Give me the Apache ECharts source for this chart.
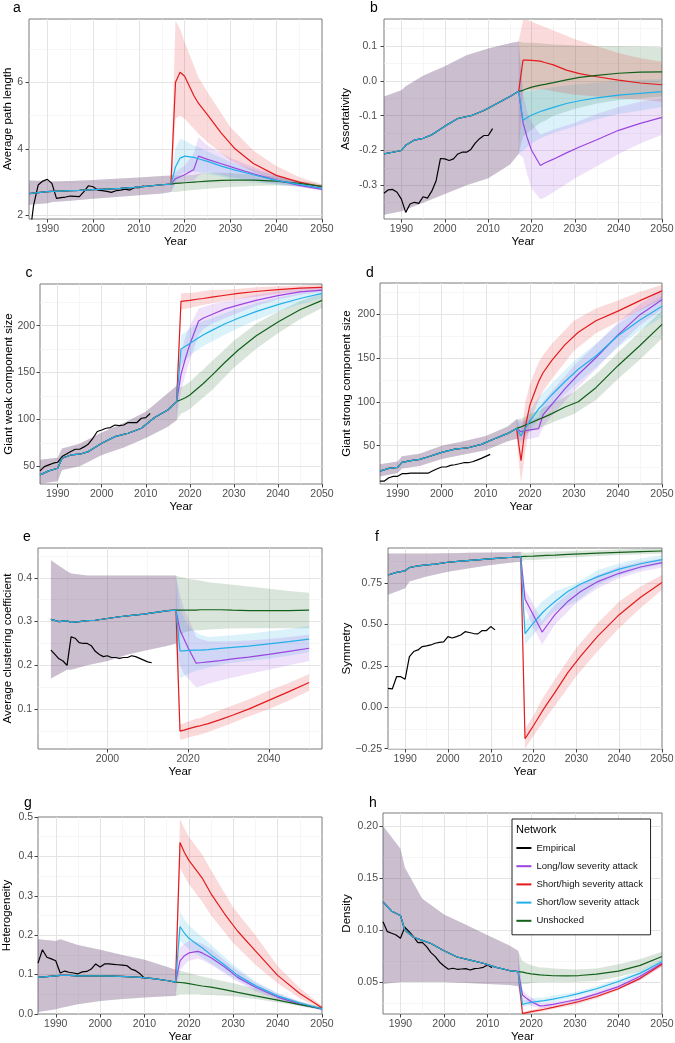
<!DOCTYPE html>
<html>
<head>
<meta charset="utf-8">
<script src="https://cdn.jsdelivr.net/npm/echarts@6/dist/echarts.min.js"></script>
<style>
  html, body { margin: 0; padding: 0; background: #fff; }
  #chart { width: 675px; height: 1043px; }
</style>
</head>
<body>
<div id="chart"></div>
<script>
// year grids
const EMP_YEARS = [1986, 1987, 1988, 1989, 1990, 1991, 1992, 1993, 1994, 1995, 1996, 1997, 1998,
  1999, 2000, 2001, 2002, 2003, 2004, 2005, 2006, 2007, 2008, 2009, 2010, 2011];
const PRE_YEARS = [1986, 1988, 1990, 1991, 1993, 1995, 1997, 2000, 2003, 2006, 2009, 2012, 2015, 2017];
const POST_YEARS = [2018, 2019, 2020, 2022, 2023, 2025, 2028, 2031, 2035, 2040, 2045, 2050];
const BAND_PRE_YEARS = [1986, 1990, 1991, 1995, 2000, 2005, 2010, 2015, 2017];
const BAND_POST_YEARS = [2018, 2019, 2020, 2022, 2023, 2025, 2030, 2035, 2040, 2045, 2050];

const NETWORKS = ['Empirical', 'Long/low severity attack', 'Short/high severity attack',
  'Short/low severity attack', 'Unshocked'];
const COLORS = ['#000000', '#9b45e0', '#e41a1c', '#22b0e8', '#12601a'];

const DECADES = [1990, 2000, 2010, 2020, 2030, 2040, 2050];
const HALF_DECADES = [1995, 2005, 2015, 2025, 2035, 2045];

// a: average path length
const aEmpirical = [1.2, 2.3, 2.91, 3.03, 3.08, 2.96, 2.51, 2.53, 2.55, 2.58, 2.57, 2.56, 2.71, 2.89, 2.86, 2.76, 2.74, 2.72, 2.69, 2.74, 2.76, 2.79, 2.76, 2.83, 2.83, 2.89];
const aShared = [2.65, 2.68, 2.71, 2.72, 2.73, 2.74, 2.75, 2.77, 2.79, 2.81, 2.84, 2.88, 2.92, 2.94];
const aLong = [3.1, 3.16, 3.22, 3.38, 3.78, 3.68, 3.55, 3.42, 3.25, 3.06, 2.9, 2.78];
const aShortHigh = [6.0, 6.3, 6.18, 5.6, 5.37, 5.02, 4.47, 4.0, 3.56, 3.2, 3.0, 2.86];
const aShortLow = [3.45, 3.72, 3.78, 3.74, 3.7, 3.62, 3.48, 3.36, 3.22, 3.05, 2.93, 2.82];
const aUnshocked = [2.96, 2.97, 2.98, 3.0, 3.01, 3.03, 3.05, 3.06, 3.06, 3.03, 2.96, 2.87];
const aSharedBand = [[2.32, 2.36, 2.4, 2.44, 2.5, 2.55, 2.6, 2.66, 2.7], [3.05, 3.03, 3.02, 3.03, 3.06, 3.1, 3.14, 3.18, 3.2]];
const aLongBand = [[2.95, 2.98, 3.0, 3.05, 3.2, 3.3, 3.15, 3.05, 2.95, 2.85, 2.74], [3.3, 3.4, 3.5, 3.85, 4.35, 4.1, 3.72, 3.45, 3.22, 3.02, 2.84]];
const aShortHighBand = [[4.9, 5.0, 4.9, 4.6, 4.45, 4.2, 3.65, 3.3, 3.05, 2.9, 2.8], [7.85, 7.6, 7.2, 6.5, 6.15, 5.7, 4.65, 3.95, 3.48, 3.15, 2.93]];
const aShortLowBand = [[3.0, 3.2, 3.3, 3.3, 3.3, 3.25, 3.1, 3.0, 2.92, 2.85, 2.77], [4.0, 4.3, 4.25, 4.1, 4.05, 3.92, 3.6, 3.38, 3.2, 3.02, 2.88]];
const aUnshockedBand = [[2.7, 2.72, 2.74, 2.76, 2.78, 2.8, 2.85, 2.88, 2.9, 2.88, 2.82], [3.2, 3.2, 3.2, 3.22, 3.24, 3.28, 3.27, 3.22, 3.16, 3.04, 2.93]];

// b: assortativity
const bEmpirical = [-0.323, -0.313, -0.312, -0.32, -0.34, -0.378, -0.354, -0.349, -0.352, -0.333, -0.337, -0.317, -0.287, -0.223, -0.224, -0.229, -0.224, -0.21, -0.205, -0.205, -0.197, -0.179, -0.166, -0.157, -0.157, -0.137];
const bShared = [-0.21, -0.205, -0.2, -0.185, -0.17, -0.165, -0.155, -0.13, -0.108, -0.1, -0.085, -0.065, -0.045, -0.03];
const bLong = [-0.12, -0.165, -0.2, -0.243, -0.236, -0.225, -0.207, -0.19, -0.169, -0.142, -0.122, -0.105];
const bShortHigh = [0.06, 0.06, 0.059, 0.057, 0.053, 0.046, 0.031, 0.021, 0.012, 0.002, -0.006, -0.011];
const bShortLow = [-0.113, -0.105, -0.098, -0.088, -0.084, -0.076, -0.065, -0.057, -0.049, -0.041, -0.036, -0.031];
const bUnshocked = [-0.027, -0.022, -0.018, -0.012, -0.01, -0.005, 0.003, 0.01, 0.016, 0.022, 0.025, 0.026];
const bSharedBand = [[-0.385, -0.375, -0.37, -0.35, -0.325, -0.3, -0.28, -0.24, -0.21], [-0.045, -0.027, -0.015, 0.015, 0.042, 0.074, 0.093, 0.108, 0.113]];
const bLongBand = [[-0.22, -0.27, -0.31, -0.34, -0.335, -0.32, -0.28, -0.245, -0.21, -0.18, -0.155], [-0.04, -0.09, -0.12, -0.155, -0.15, -0.14, -0.12, -0.095, -0.075, -0.06, -0.05]];
const bShortHighBand = [[-0.03, -0.025, -0.025, -0.025, -0.025, -0.03, -0.04, -0.045, -0.05, -0.055, -0.06], [0.175, 0.175, 0.17, 0.16, 0.155, 0.145, 0.12, 0.1, 0.08, 0.065, 0.055]];
const bShortLowBand = [[-0.2, -0.19, -0.18, -0.165, -0.16, -0.15, -0.13, -0.11, -0.095, -0.085, -0.075], [-0.03, -0.03, -0.028, -0.025, -0.022, -0.018, -0.01, -0.005, 0.0, 0.003, 0.005]];
const bUnshockedBand = [[-0.16, -0.15, -0.14, -0.12, -0.115, -0.1, -0.08, -0.065, -0.055, -0.05, -0.045], [0.11, 0.11, 0.11, 0.108, 0.107, 0.105, 0.102, 0.1, 0.1, 0.098, 0.097]];

// c: giant weak component size
const cEmpirical = [45, 49.6, 51.4, 53.2, 54.2, 60.3, 63.1, 65.6, 68.1, 68.1, 70.6, 73.8, 79.8, 87, 88.7, 90.5, 91.2, 94, 93.4, 94, 96.6, 96.6, 96.6, 101.2, 101.9, 106.2];
const cShared = [40.7, 45, 47.8, 58.5, 62, 62.8, 65.6, 74.5, 81.6, 85.2, 90.5, 101.9, 110, 119];
const cLong = [148, 165, 180, 205, 208, 212, 218, 222, 227, 232, 236, 238];
const cShortHigh = [226, 226.5, 227, 228.5, 229, 230.5, 232.5, 234.5, 236.5, 238.5, 240, 241];
const cShortLow = [175, 178, 181, 187, 190, 195, 202, 208, 215, 222.5, 229, 234.5];
const cUnshocked = [121, 123, 126, 134, 138, 147, 161, 174, 189, 204, 217, 227];
const cSharedBand = [[31.5, 34, 46, 50, 62, 70, 80, 92, 99], [57, 59, 69, 74, 86, 96, 108, 128, 136]];
const cLongBand = [[130, 148, 163, 190, 196, 202, 212, 221, 228, 233, 236], [170, 188, 200, 218, 220, 223, 228, 233, 237, 240, 242]];
const cShortHighBand = [[217, 218, 219, 221, 222, 224, 228, 231, 234, 236, 237], [234, 235, 235, 236, 237, 238, 239, 241, 242, 243, 244]];
const cShortLowBand = [[158, 163, 168, 175, 178, 183, 195, 206, 215, 223, 229], [190, 193, 197, 203, 205, 208, 217, 224, 230, 235, 239]];
const cUnshockedBand = [[106, 108, 111, 119, 123, 131, 155, 175, 192, 207, 219], [134, 137, 140, 149, 153, 162, 184, 202, 215, 226, 235]];

// d: giant strong component size
const dEmpirical = [9.8, 9.8, 13.6, 15.2, 15.2, 18.2, 18.2, 18.9, 18.9, 18.9, 18.9, 18.9, 21.6, 23.9, 25.8, 25.8, 27.7, 28.4, 29.5, 30.7, 30.7, 31.8, 33.7, 35.6, 37.9, 40.2];
const dShared = [21.2, 24.2, 25.4, 31, 33, 34.5, 37.5, 42.4, 46.2, 47.7, 51.5, 58, 64, 69.7];
const dLong = [66, 67, 68, 69.5, 85, 97, 115, 131, 150, 176, 199, 216];
const dShortHigh = [33, 72, 96, 123, 133, 147, 165, 179, 192, 203, 215, 226];
const dShortLow = [61, 70, 78, 92, 97, 108, 123, 137, 152, 175, 193, 208.5];
const dUnshocked = [71.5, 73.5, 75.5, 80, 82, 86.5, 94, 100, 116, 141, 164, 188];
const dSharedBand = [[15, 19, 24, 27, 35, 40, 45, 55, 58], [29, 32, 38, 41, 50, 55, 61, 72, 80]];
const dLongBand = [[56, 57, 58, 60, 72, 84, 112, 137, 163, 187, 205], [78, 79, 80, 82, 100, 112, 141, 165, 190, 211, 227]];
const dShortHighBand = [[8, 45, 75, 102, 112, 126, 158, 178, 191, 204, 216], [62, 100, 120, 145, 153, 166, 192, 206, 215, 225, 233]];
const dShortLowBand = [[52, 60, 67, 80, 85, 95, 118, 139, 162, 181, 196], [72, 81, 90, 105, 110, 121, 146, 166, 188, 205, 220]];
const dUnshockedBand = [[62, 64, 66, 70, 72, 76, 86, 102, 126, 148, 172], [81, 83, 86, 90, 93, 98, 111, 131, 156, 180, 204]];

// e: average clustering coefficient
const eEmpirical = [0.235, 0.225, 0.215, 0.21, 0.2, 0.265, 0.262, 0.252, 0.25, 0.25, 0.245, 0.232, 0.225, 0.22, 0.222, 0.218, 0.218, 0.216, 0.218, 0.218, 0.222, 0.22, 0.216, 0.212, 0.208, 0.206];
const eShared = [0.305, 0.3, 0.302, 0.298, 0.3, 0.302, 0.303, 0.307, 0.311, 0.314, 0.317, 0.321, 0.325, 0.326];
const eLong = [0.28, 0.26, 0.24, 0.205, 0.206, 0.208, 0.211, 0.215, 0.219, 0.225, 0.232, 0.239];
const eShortHigh = [0.05, 0.052, 0.055, 0.06, 0.062, 0.067, 0.076, 0.086, 0.1, 0.12, 0.14, 0.161];
const eShortLow = [0.233, 0.233, 0.234, 0.235, 0.235, 0.236, 0.239, 0.241, 0.244, 0.249, 0.254, 0.26];
const eUnshocked = [0.326, 0.326, 0.326, 0.326, 0.327, 0.327, 0.327, 0.326, 0.325, 0.325, 0.325, 0.326];
const eSharedBand = [[0.17, 0.19, 0.19, 0.2, 0.21, 0.225, 0.235, 0.245, 0.25], [0.44, 0.415, 0.41, 0.405, 0.405, 0.405, 0.405, 0.405, 0.405]];
const eLongBand = [[0.2, 0.18, 0.17, 0.15, 0.152, 0.158, 0.17, 0.18, 0.19, 0.2, 0.21], [0.36, 0.33, 0.31, 0.265, 0.26, 0.255, 0.255, 0.257, 0.26, 0.265, 0.27]];
const eShortHighBand = [[0.03, 0.032, 0.035, 0.04, 0.042, 0.048, 0.065, 0.083, 0.1, 0.12, 0.142], [0.065, 0.068, 0.072, 0.078, 0.08, 0.087, 0.105, 0.122, 0.142, 0.16, 0.18]];
const eShortLowBand = [[0.17, 0.175, 0.18, 0.188, 0.19, 0.195, 0.205, 0.21, 0.215, 0.222, 0.23], [0.33, 0.31, 0.29, 0.275, 0.27, 0.265, 0.268, 0.272, 0.278, 0.283, 0.29]];
const eUnshockedBand = [[0.27, 0.275, 0.278, 0.28, 0.28, 0.282, 0.284, 0.285, 0.285, 0.285, 0.285], [0.402, 0.4, 0.398, 0.395, 0.394, 0.39, 0.385, 0.38, 0.375, 0.37, 0.366]];

// f: symmetry
const fEmpirical = [0.115, 0.111, 0.185, 0.185, 0.17, 0.306, 0.337, 0.347, 0.367, 0.371, 0.377, 0.387, 0.393, 0.395, 0.427, 0.419, 0.427, 0.437, 0.457, 0.452, 0.446, 0.444, 0.464, 0.464, 0.488, 0.468];
const fShared = [0.8, 0.816, 0.825, 0.845, 0.855, 0.861, 0.866, 0.877, 0.884, 0.89, 0.896, 0.902, 0.907, 0.911];
const fLong = [0.655, 0.605, 0.555, 0.455, 0.49, 0.56, 0.64, 0.7, 0.76, 0.81, 0.848, 0.875];
const fShortHigh = [-0.19, -0.15, -0.11, -0.025, 0.015, 0.09, 0.21, 0.31, 0.43, 0.56, 0.665, 0.755];
const fShortLow = [0.445, 0.478, 0.51, 0.57, 0.595, 0.64, 0.7, 0.745, 0.79, 0.835, 0.868, 0.893];
const fUnshocked = [0.912, 0.913, 0.914, 0.917, 0.918, 0.92, 0.924, 0.928, 0.932, 0.937, 0.941, 0.945];
const fSharedBand = [[0.68, 0.72, 0.76, 0.79, 0.82, 0.84, 0.86, 0.875, 0.88], [0.93, 0.93, 0.93, 0.93, 0.932, 0.934, 0.936, 0.938, 0.94]];
const fLongBand = [[0.6, 0.54, 0.48, 0.38, 0.42, 0.5, 0.63, 0.72, 0.78, 0.82, 0.845], [0.71, 0.67, 0.62, 0.52, 0.56, 0.62, 0.73, 0.8, 0.85, 0.88, 0.9]];
const fShortHighBand = [[-0.25, -0.21, -0.17, -0.1, -0.06, 0.01, 0.19, 0.34, 0.48, 0.6, 0.71], [-0.13, -0.09, -0.05, 0.05, 0.09, 0.17, 0.36, 0.51, 0.64, 0.73, 0.8]];
const fShortLowBand = [[0.38, 0.41, 0.44, 0.5, 0.53, 0.58, 0.64, 0.74, 0.795, 0.835, 0.865], [0.52, 0.55, 0.58, 0.64, 0.66, 0.7, 0.75, 0.83, 0.87, 0.9, 0.92]];
const fUnshockedBand = [[0.89, 0.89, 0.89, 0.893, 0.895, 0.9, 0.907, 0.914, 0.92, 0.925, 0.93], [0.935, 0.936, 0.937, 0.94, 0.94, 0.942, 0.946, 0.95, 0.954, 0.958, 0.96]];

// g: heterogeneity
const gEmpirical = [0.129, 0.163, 0.144, 0.14, 0.135, 0.104, 0.109, 0.106, 0.104, 0.102, 0.107, 0.108, 0.114, 0.127, 0.119, 0.127, 0.127, 0.126, 0.125, 0.124, 0.123, 0.114, 0.11, 0.102, 0.091, 0.091];
const gShared = [0.093, 0.095, 0.097, 0.098, 0.098, 0.097, 0.097, 0.097, 0.096, 0.095, 0.093, 0.09, 0.085, 0.081];
const gLong = [0.135, 0.148, 0.155, 0.159, 0.155, 0.143, 0.12, 0.093, 0.068, 0.043, 0.025, 0.012];
const gShortHigh = [0.435, 0.41, 0.39, 0.36, 0.345, 0.305, 0.255, 0.21, 0.16, 0.098, 0.052, 0.016];
const gShortLow = [0.222, 0.205, 0.192, 0.176, 0.168, 0.15, 0.125, 0.098, 0.072, 0.046, 0.028, 0.013];
const gUnshocked = [0.08, 0.079, 0.077, 0.073, 0.071, 0.068, 0.062, 0.055, 0.046, 0.035, 0.024, 0.0135];
const gSharedBand = [[0.005, 0.012, 0.015, 0.025, 0.033, 0.038, 0.042, 0.045, 0.046], [0.19, 0.185, 0.19, 0.175, 0.163, 0.15, 0.138, 0.12, 0.112]];
const gLongBand = [[0.11, 0.125, 0.135, 0.14, 0.137, 0.125, 0.088, 0.058, 0.036, 0.021, 0.009], [0.17, 0.178, 0.185, 0.182, 0.178, 0.165, 0.118, 0.08, 0.052, 0.031, 0.015]];
const gShortHighBand = [[0.37, 0.35, 0.33, 0.3, 0.285, 0.25, 0.18, 0.125, 0.078, 0.04, 0.011], [0.495, 0.47, 0.45, 0.42, 0.405, 0.365, 0.27, 0.2, 0.122, 0.066, 0.021]];
const gShortLowBand = [[0.185, 0.175, 0.165, 0.15, 0.142, 0.128, 0.092, 0.062, 0.04, 0.024, 0.01], [0.26, 0.24, 0.225, 0.205, 0.196, 0.176, 0.125, 0.083, 0.053, 0.032, 0.016]];
const gUnshockedBand = [[0.05, 0.05, 0.05, 0.05, 0.049, 0.048, 0.045, 0.038, 0.029, 0.02, 0.011], [0.11, 0.107, 0.104, 0.098, 0.095, 0.09, 0.078, 0.064, 0.047, 0.032, 0.017]];

// h: density
const hEmpirical = [0.108, 0.0984, 0.0968, 0.0952, 0.092, 0.1026, 0.0984, 0.0936, 0.0878, 0.0881, 0.084, 0.0782, 0.0744, 0.069, 0.0654, 0.0622, 0.0632, 0.0622, 0.0625, 0.0628, 0.0615, 0.0628, 0.0632, 0.0641, 0.0663, 0.0638];
const hShared = [0.127, 0.118, 0.114, 0.1, 0.093, 0.09, 0.087, 0.08, 0.074, 0.071, 0.068, 0.064, 0.061, 0.06];
const hLong = [0.0375, 0.034, 0.031, 0.027, 0.0272, 0.0285, 0.031, 0.0335, 0.0385, 0.0455, 0.0555, 0.068];
const hShortHigh = [0.0195, 0.0205, 0.0215, 0.023, 0.0238, 0.0255, 0.0283, 0.0312, 0.036, 0.0435, 0.0535, 0.067];
const hShortLow = [0.0285, 0.0295, 0.0305, 0.0315, 0.032, 0.0335, 0.036, 0.039, 0.0435, 0.0505, 0.0585, 0.0695];
const hUnshocked = [0.0595, 0.0585, 0.0578, 0.0568, 0.0565, 0.056, 0.0558, 0.0562, 0.0575, 0.0605, 0.066, 0.0745];
const hSharedBand = [[0.048, 0.05, 0.05, 0.05, 0.05, 0.049, 0.048, 0.047, 0.046], [0.2, 0.178, 0.16, 0.13, 0.115, 0.105, 0.095, 0.085, 0.08]];
const hLongBand = [[0.032, 0.029, 0.027, 0.025, 0.025, 0.026, 0.029, 0.036, 0.043, 0.052, 0.065], [0.042, 0.038, 0.035, 0.03, 0.03, 0.031, 0.034, 0.041, 0.048, 0.058, 0.071]];
const hShortHighBand = [[0.0192, 0.0195, 0.02, 0.021, 0.022, 0.024, 0.028, 0.034, 0.042, 0.052, 0.065], [0.021, 0.022, 0.023, 0.025, 0.026, 0.027, 0.032, 0.038, 0.045, 0.055, 0.069]];
const hShortLowBand = [[0.025, 0.027, 0.028, 0.03, 0.03, 0.031, 0.035, 0.041, 0.048, 0.056, 0.067], [0.032, 0.033, 0.034, 0.035, 0.035, 0.037, 0.04, 0.046, 0.053, 0.061, 0.072]];
const hUnshockedBand = [[0.048, 0.048, 0.049, 0.05, 0.05, 0.05, 0.05, 0.051, 0.055, 0.06, 0.07], [0.07, 0.068, 0.066, 0.064, 0.064, 0.063, 0.062, 0.063, 0.067, 0.072, 0.079]];

const fixed = (d, minus) => v => {
  const s = v.toFixed(d);
  return minus ? s.replace('-', '\u2212') : s;
};

const panels = [
  { letter: 'a', at: [17, 8], title: 'Average path length', box: [29, 19, 293, 200],
    x: [1986, 2050], xMajor: DECADES, xMinor: HALF_DECADES,
    y: [1.89, 7.9], yMajor: [2, 4, 6], yMinor: [3, 5, 7], fmt: fixed(0), nameGap: 15, margin: 6,
    emp: aEmpirical, shared: aShared, lines: [aLong, aShortHigh, aShortLow, aUnshocked],
    sharedBand: aSharedBand, bands: [aLongBand, aShortHighBand, aShortLowBand, aUnshockedBand] },
  { letter: 'b', at: [374, 8], title: 'Assortativity', box: [384, 19, 278, 200],
    x: [1986, 2050], xMajor: DECADES, xMinor: HALF_DECADES,
    y: [-0.397, 0.178], yMajor: [-0.3, -0.2, -0.1, 0, 0.1], yMinor: [-0.35, -0.25, -0.15, -0.05, 0.05, 0.15],
    fmt: fixed(1), nameGap: 32, margin: 7,
    emp: bEmpirical, shared: bShared, lines: [bLong, bShortHigh, bShortLow, bUnshocked],
    sharedBand: bSharedBand, bands: [bLongBand, bShortHighBand, bShortLowBand, bUnshockedBand] },
  { letter: 'c', at: [29, 273], title: 'Giant weak component size', box: [40, 284, 282, 200],
    x: [1986, 2050], xMajor: DECADES, xMinor: HALF_DECADES,
    y: [31, 244.5], yMajor: [50, 100, 150, 200], yMinor: [75, 125, 175, 225], fmt: fixed(0), nameGap: 25, margin: 5,
    emp: cEmpirical, shared: cShared, lines: [cLong, cShortHigh, cShortLow, cUnshocked],
    sharedBand: cSharedBand, bands: [cLongBand, cShortHighBand, cShortLowBand, cUnshockedBand] },
  { letter: 'd', at: [370, 273], title: 'Giant strong component size', box: [380, 283, 282, 201],
    x: [1986, 2050], xMajor: DECADES, xMinor: HALF_DECADES,
    y: [6.5, 235], yMajor: [50, 100, 150, 200], yMinor: [25, 75, 125, 175, 225], fmt: fixed(0), nameGap: 27, margin: 5,
    emp: dEmpirical, shared: dShared, lines: [dLong, dShortHigh, dShortLow, dUnshocked],
    sharedBand: dSharedBand, bands: [dLongBand, dShortHighBand, dShortLowBand, dUnshockedBand] },
  { letter: 'e', at: [27, 537], title: 'Average clustering coefficient', box: [38, 548, 284, 201],
    x: [1982.8, 2053.2], xMajor: [2000, 2020, 2040], xMinor: [1990, 2010, 2030, 2050],
    y: [0.009, 0.468], yMajor: [0.1, 0.2, 0.3, 0.4], yMinor: [0.05, 0.15, 0.25, 0.35, 0.45], fmt: fixed(1), nameGap: 24, margin: 6,
    emp: eEmpirical, shared: eShared, lines: [eLong, eShortHigh, eShortLow, eUnshocked],
    sharedBand: eSharedBand, bands: [eLongBand, eShortHighBand, eShortLowBand, eUnshockedBand] },
  { letter: 'f', at: [377, 537], title: 'Symmetry', box: [388, 548, 274, 201],
    x: [1986, 2050], xMajor: DECADES, xMinor: HALF_DECADES,
    y: [-0.252, 0.963], yMajor: [-0.25, 0, 0.25, 0.5, 0.75], yMinor: [-0.125, 0.125, 0.375, 0.625, 0.875],
    fmt: fixed(2, true), nameGap: 35, margin: 6,
    emp: fEmpirical, shared: fShared, lines: [fLong, fShortHigh, fShortLow, fUnshocked],
    sharedBand: fSharedBand, bands: [fLongBand, fShortHighBand, fShortLowBand, fUnshockedBand] },
  { letter: 'g', at: [28, 803], title: 'Heterogeneity', box: [38, 817, 284, 197],
    x: [1986, 2050], xMajor: DECADES, xMinor: HALF_DECADES,
    y: [0, 0.5], yMajor: [0, 0.1, 0.2, 0.3, 0.4, 0.5], yMinor: [0.05, 0.15, 0.25, 0.35, 0.45], fmt: fixed(1), nameGap: 25, margin: 5,
    emp: gEmpirical, shared: gShared, lines: [gLong, gShortHigh, gShortLow, gUnshocked],
    sharedBand: gSharedBand, bands: [gLongBand, gShortHighBand, gShortLowBand, gUnshockedBand] },
  { letter: 'h', at: [373, 803], title: 'Density', box: [383, 813, 279, 201],
    x: [1986, 2050], xMajor: DECADES, xMinor: HALF_DECADES,
    y: [0.0192, 0.2125], yMajor: [0.05, 0.1, 0.15, 0.2], yMinor: [0.025, 0.075, 0.125, 0.175], fmt: fixed(2), nameGap: 30, margin: 5,
    emp: hEmpirical, shared: hShared, lines: [hLong, hShortHigh, hShortLow, hUnshocked],
    sharedBand: hSharedBand, bands: [hLongBand, hShortHighBand, hShortLowBand, hUnshockedBand] }
];

function rgba(hex, a) {
  const n = parseInt(hex.slice(1), 16);
  return 'rgba(' + (n >> 16) + ',' + ((n >> 8) & 255) + ',' + (n & 255) + ',' + a + ')';
}

// grid lines (major + minor) drawn as mark lines so they can sit between the custom ticks
function gridSeries(i, p) {
  const items = [];
  const add = (key, vals, lo, hi, major) => vals.forEach(v => {
    if (v > lo + 1e-9 && v < hi - 1e-9) {
      items.push({ [key]: v, lineStyle: { color: major ? '#e4e4e4' : '#f0f0f0', width: major ? 1 : 0.6, type: 'solid' } });
    }
  });
  add('xAxis', p.xMinor, p.x[0], p.x[1], false);
  add('yAxis', p.yMinor, p.y[0], p.y[1], false);
  add('xAxis', p.xMajor, p.x[0], p.x[1], true);
  add('yAxis', p.yMajor, p.y[0], p.y[1], true);
  return {
    type: 'line', name: 'grid' + i, xAxisIndex: i, yAxisIndex: i, data: [], silent: true, z: 0,
    markLine: { silent: true, z: 0, animation: false, symbol: ['none', 'none'], label: { show: false },
      lineStyle: { type: 'solid' }, emphasis: { disabled: true }, data: items }
  };
}

// ribbon: the pre-shock part is where all four ribbons overlap, so it gets a lighter fill
function bandSeries(i, sharedBand, band, color) {
  const preN = BAND_PRE_YEARS.length;
  const years = BAND_PRE_YEARS.concat(BAND_POST_YEARS);
  const lo = sharedBand[0].concat(band[0]);
  const hi = sharedBand[1].concat(band[1]);
  const poly = (api, a, b) => {
    const top = [], bottom = [];
    for (let j = a; j <= b; j++) {
      top.push(api.coord([years[j], hi[j]]));
      bottom.push(api.coord([years[j], lo[j]]));
    }
    return top.concat(bottom.reverse());
  };
  return {
    type: 'custom', name: 'band' + i, xAxisIndex: i, yAxisIndex: i, z: 1, silent: true, clip: true,
    data: [[years[0], lo[0]]],
    renderItem: (params, api) => ({
      type: 'group',
      children: [
        { type: 'polygon', shape: { points: poly(api, 0, preN - 1) }, style: { fill: rgba(color, 0.115) } },
        { type: 'polygon', shape: { points: poly(api, preN - 1, years.length - 1) }, style: { fill: rgba(color, 0.16) } }
      ]
    })
  };
}

function lineSeries(i, name, color, data) {
  return {
    type: 'line', name: name, xAxisIndex: i, yAxisIndex: i, z: 3, data: data,
    symbol: 'none', showSymbol: false, clip: true, silent: true,
    lineStyle: { color: color, width: 1.2 }, itemStyle: { color: color }
  };
}

const option = {
  animation: false,
  backgroundColor: '#fff',
  textStyle: { fontFamily: 'Liberation Sans, Arial, Helvetica, sans-serif' },
  grid: [], xAxis: [], yAxis: [], series: [],
  legend: {
    data: NETWORKS, orient: 'vertical', left: 512, top: 819,
    icon: 'rect', itemWidth: 15, itemHeight: 2, itemGap: 4.2,
    padding: [22, 7.5, 7, 4.4], borderColor: '#222', borderWidth: 1, borderRadius: 0,
    backgroundColor: '#fff', selectedMode: false, itemStyle: { borderWidth: 0 },
    textStyle: { fontSize: 9.5, color: '#111', lineHeight: 14 }
  },
  graphic: []
};

panels.forEach((p, i) => {
  option.grid.push({
    left: p.box[0], top: p.box[1], width: p.box[2], height: p.box[3],
    show: true, backgroundColor: '#fff', borderColor: '#7a7a7a', borderWidth: 1,
    containLabel: false, outerBoundsMode: 'none'
  });
  option.xAxis.push({
    type: 'value', gridIndex: i, min: p.x[0], max: p.x[1],
    name: 'Year', nameLocation: 'middle', nameGap: 17, nameMoveOverlap: false,
    nameTextStyle: { fontSize: 11.5, color: '#000' },
    axisLine: { show: false, onZero: false }, splitLine: { show: false },
    axisTick: { show: true, length: 3.5, lineStyle: { color: '#444', width: 1 }, customValues: p.xMajor },
    axisLabel: { customValues: p.xMajor, fontSize: 10.5, color: '#4d4d4d', margin: 5, formatter: v => String(Math.round(v)) }
  });
  option.yAxis.push({
    type: 'value', gridIndex: i, min: p.y[0], max: p.y[1],
    name: p.title, nameLocation: 'middle', nameGap: p.nameGap, nameMoveOverlap: false,
    nameTextStyle: { fontSize: 11.5, color: '#000' },
    axisLine: { show: false, onZero: false }, splitLine: { show: false },
    axisTick: { show: true, length: 3.5, lineStyle: { color: '#444', width: 1 }, customValues: p.yMajor },
    axisLabel: { customValues: p.yMajor, fontSize: 10.5, color: '#4d4d4d', margin: p.margin, formatter: p.fmt }
  });

  option.series.push(gridSeries(i, p));

  // ribbons: unshocked first, long/low last (on top)
  [3, 2, 1, 0].forEach(k => {
    option.series.push(bandSeries(i, p.sharedBand, p.bands[k], COLORS[k + 1]));
  });

  option.series.push(lineSeries(i, NETWORKS[0], COLORS[0], EMP_YEARS.map((y, j) => [y, p.emp[j]])));
  [0, 1, 3, 2].forEach(k => {
    const data = PRE_YEARS.map((y, j) => [y, p.shared[j]])
      .concat(POST_YEARS.map((y, j) => [y, p.lines[k][j]]));
    option.series.push(lineSeries(i, NETWORKS[k + 1], COLORS[k + 1], data));
  });

  option.graphic.push({
    type: 'text', x: p.at[0], y: p.at[1], z: 100,
    style: { text: p.letter, fontSize: 14, fill: '#000', align: 'center', verticalAlign: 'middle',
      fontFamily: 'Liberation Sans, Arial, sans-serif' }
  });
});

option.graphic.push({
  type: 'text', x: 516, y: 830, z: 100,
  style: { text: 'Network', fontSize: 11, fill: '#000', align: 'left', verticalAlign: 'middle',
    fontFamily: 'Liberation Sans, Arial, sans-serif' }
});

const chart = echarts.init(document.getElementById('chart'), null, { renderer: 'canvas' });
chart.setOption(option);
</script>
</body>
</html>
